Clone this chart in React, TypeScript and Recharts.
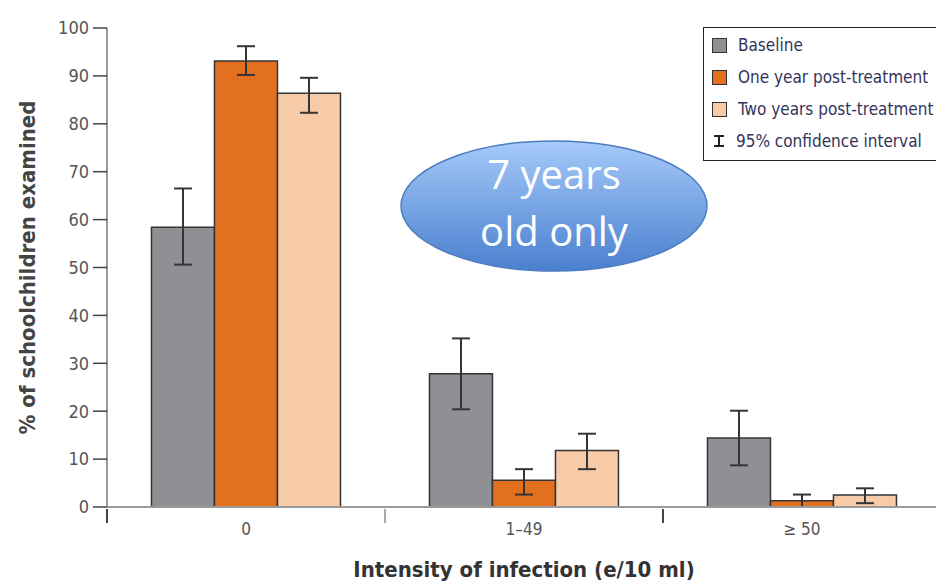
import React from "react";
import { BarChart, Bar, ErrorBar, XAxis, YAxis } from "recharts";

const categories = ["0", "1–49", "≥ 50"];
const baseline = [58.4, 27.8, 14.4];
const baselineLow = [50.6, 20.4, 8.7];
const baselineHigh = [66.5, 35.2, 20.1];
const oneYear = [93.1, 5.6, 1.3];
const oneYearLow = [90.2, 2.6, 0];
const oneYearHigh = [96.2, 7.9, 2.6];
const twoYears = [86.4, 11.8, 2.5];
const twoYearsLow = [82.3, 7.9, 0.8];
const twoYearsHigh = [89.6, 15.3, 3.9];
const yTicks = [0, 10, 20, 30, 40, 50, 60, 70, 80, 90, 100];

const C_BASE = "#8e9093";
const C_ONE = "#e3701f";
const C_TWO = "#f7caa8";
const INK = "#353535";
const NARROW = "'DejaVu Sans Condensed', 'DejaVu Sans', sans-serif";

const data = categories.map((c, i) => ({
  cat: c,
  base: baseline[i],
  baseErr: [baseline[i] - baselineLow[i], baselineHigh[i] - baseline[i]],
  one: oneYear[i],
  oneErr: [oneYear[i] - oneYearLow[i], oneYearHigh[i] - oneYear[i]],
  two: twoYears[i],
  twoErr: [twoYears[i] - twoYearsLow[i], twoYearsHigh[i] - twoYears[i]],
}));

const legendItems = [
  { label: "Baseline", color: C_BASE },
  { label: "One year post-treatment", color: C_ONE },
  { label: "Two years post-treatment", color: C_TWO },
];

// plot spans 107..941, three equal bands
const BAND = (941 - 107) / 3;

function XTick(props: any) {
  const { x, y, payload } = props;
  const bx = x - BAND / 2;
  return (
    <g>
      <line x1={bx} y1={y - 6} x2={bx} y2={y + 8} stroke={payload.index === 1 ? "#aaa" : "#444"} strokeWidth={2} />
      <text x={x} y={y + 20} textAnchor="middle" fill="#555" fontSize={17} fontFamily={NARROW}>
        {payload.value}
      </text>
    </g>
  );
}

function LegendBox() {
  return (
    <div
      style={{
        position: "absolute",
        left: 703,
        top: 27,
        border: "1.5px solid #222",
        padding: "1px 0 3px 8px",
        width: 250,
        fontFamily: NARROW,
        fontSize: 17,
        color: "#34345a",
        background: "#fff",
      }}
    >
      {legendItems.map((it) => (
        <div key={it.label} style={{ display: "flex", alignItems: "center", height: 32 }}>
          <span style={{ width: 13, height: 13, background: it.color, border: "1.5px solid #333", marginRight: 11 }} />
          {it.label}
        </div>
      ))}
      <div style={{ display: "flex", alignItems: "center", height: 32 }}>
        <svg width={14} height={14} style={{ marginRight: 10 }}>
          <line x1={2} y1={2} x2={12} y2={2} stroke="#222" strokeWidth={2} />
          <line x1={7} y1={2} x2={7} y2={12} stroke="#222" strokeWidth={2} />
          <line x1={2} y1={12} x2={12} y2={12} stroke="#222" strokeWidth={2} />
        </svg>
        95% confidence interval
      </div>
    </div>
  );
}

export default function App() {
  return (
    <div style={{ position: "absolute", left: 0, top: 0, width: 936, height: 584, overflow: "hidden", background: "#fff" }}>
      <BarChart
        width={960}
        height={584}
        data={data}
        margin={{ top: 28, right: 19, bottom: 0, left: 0 }}
        barCategoryGap="16%"
        barGap={0}
      >
        <XAxis
          dataKey="cat"
          height={77}
          axisLine={{ stroke: "#9a9a9a", strokeWidth: 2 }}
          tickLine={false}
          tick={<XTick />}
          interval={0}
          label={{
            value: "Intensity of infection (e/10 ml)",
            position: "insideBottom",
            offset: 7,
            fill: "#333",
            fontSize: 22,
            fontWeight: "bold",
            fontFamily: NARROW,
          }}
        />
        <YAxis
          width={107}
          domain={[0, 100]}
          ticks={yTicks}
          interval={0}
          axisLine={{ stroke: "#9a9a9a", strokeWidth: 2 }}
          tickLine={{ stroke: "#444", strokeWidth: 1.5 }}
          tickSize={14}
          tickMargin={4}
          tick={{ fill: "#555", fontSize: 18, fontFamily: NARROW }}
          label={{
            value: "% of schoolchildren examined",
            angle: -90,
            position: "insideLeft",
            offset: 27,
            fill: "#444",
            fontSize: 22,
            fontWeight: "bold",
            fontFamily: NARROW,
            style: { textAnchor: "middle" },
          }}
        />
        <Bar dataKey="base" fill={C_BASE} stroke={INK} strokeWidth={1.5} isAnimationActive={false}>
          <ErrorBar dataKey="baseErr" width={9} stroke={INK} strokeWidth={2} direction="y" />
        </Bar>
        <Bar dataKey="one" fill={C_ONE} stroke={INK} strokeWidth={1.5} isAnimationActive={false}>
          <ErrorBar dataKey="oneErr" width={9} stroke={INK} strokeWidth={2} direction="y" />
        </Bar>
        <Bar dataKey="two" fill={C_TWO} stroke={INK} strokeWidth={1.5} isAnimationActive={false}>
          <ErrorBar dataKey="twoErr" width={9} stroke={INK} strokeWidth={2} direction="y" />
        </Bar>
      </BarChart>
      <LegendBox />
      <svg style={{ position: "absolute", left: 398, top: 138 }} width={312} height={136}>
        <defs>
          <linearGradient id="blob" x1="0" y1="0" x2="0" y2="1">
            <stop offset="0%" stopColor="#a6caf9" />
            <stop offset="100%" stopColor="#4a80cf" />
          </linearGradient>
        </defs>
        <ellipse cx={156} cy={68} rx={153} ry={65} fill="url(#blob)" stroke="#4b7cc0" strokeWidth={1.5} />
        <text x={156} y={51} textAnchor="middle" fill="#fff" fontSize={40} fontFamily="'Open Sans', sans-serif">
          7 years
        </text>
        <text x={156} y={108} textAnchor="middle" fill="#fff" fontSize={40} fontFamily="'Open Sans', sans-serif">
          old only
        </text>
      </svg>
    </div>
  );
}
